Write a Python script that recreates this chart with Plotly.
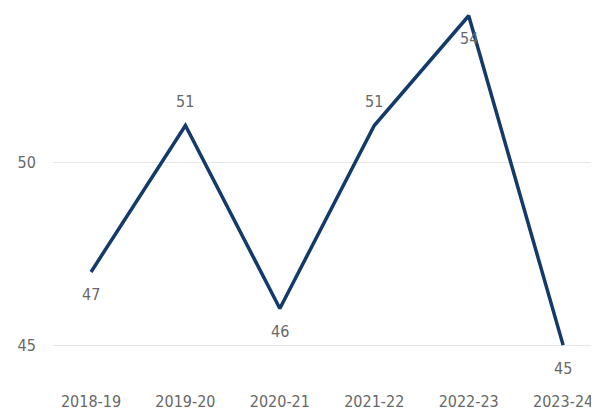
import plotly.graph_objects as go

categories = ["2018-19", "2019-20", "2020-21", "2021-22", "2022-23", "2023-24"]
values = [47, 51, 46, 51, 54, 45]
label_side = ["below", "above", "below", "above", "below", "below"]
y_ticks = [45, 50]

line_color = "#133a6b"
text_color = "#686868"
font_family = "DejaVu Sans Condensed, Roboto, sans-serif"
font_size = 16

fig = go.Figure()
fig.add_trace(go.Scatter(
    x=list(range(len(categories))), y=values, mode="lines",
    line=dict(color=line_color, width=3.5), hoverinfo="skip",
    cliponaxis=False,
))

for i, (v, side) in enumerate(zip(values, label_side)):
    fig.add_annotation(
        x=i, y=v, xref="x", yref="y", text=str(v), showarrow=False,
        yshift=24 if side == "above" else -23,
        font=dict(family=font_family, size=font_size, color=text_color),
    )

fig.update_layout(
    width=591, height=403,
    margin=dict(l=45, r=0, t=0, b=41),
    paper_bgcolor="white", plot_bgcolor="white",
    showlegend=False,
    font=dict(family=font_family, size=font_size, color=text_color),
)
fig.update_xaxes(
    tickmode="array", tickvals=list(range(len(categories))), ticktext=categories,
    range=[-0.4025, 5.38], showgrid=False, zeroline=False, showline=False,
    ticks="outside", ticklen=19, tickcolor="rgba(0,0,0,0)",
    tickfont=dict(family=font_family, size=font_size, color=text_color),
)
fig.update_yaxes(
    tickmode="array", tickvals=y_ticks, ticktext=[str(t) for t in y_ticks],
    range=[44.375, 54.212], showgrid=True, gridcolor="#e6e6e6", gridwidth=1,
    zeroline=False, showline=False,
    ticks="outside", ticklen=13, tickcolor="rgba(0,0,0,0)",
    tickfont=dict(family=font_family, size=font_size, color=text_color),
)

fig.write_html("out.html")
